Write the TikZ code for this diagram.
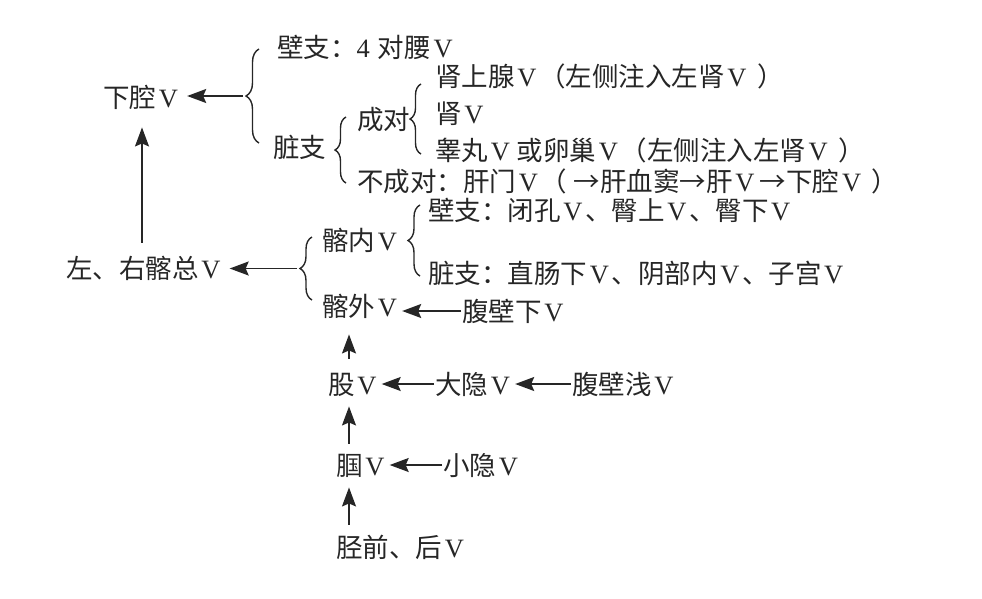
\documentclass[tikz,border=0pt]{standalone}
\usepackage{fontspec}
\setmainfont{Noto Sans CJK SC}
\newfontfamily\serifl{Liberation Serif}
\newcommand\Vv{{\serifl\hspace{0.1em}V\hspace{0.1em}}}
\newcommand\Vsp{\hspace{0.3em}}
\usetikzlibrary{arrows.meta,decorations.pathreplacing,calc}
\begin{document}
\begin{tikzpicture}[x=1pt,y=-1pt,
  lbl/.style={anchor=west, inner sep=0pt, font=\fontsize{26.5}{27}\selectfont,
    text height=23.3pt, text depth=3.2pt, text=black!85},
  arr/.style={draw=black!85, line width=1.6pt, -{Stealth[length=19pt,width=14pt,inset=3pt]}},
  brc/.style={draw=black!85, decorate, decoration={brace, amplitude=#1}, line width=1.4pt},
  brc/.default=12]
\useasboundingbox (0,0) rectangle (982,598);
% top part
\node[lbl] (xq)  at (103,97)  {下腔\Vv};
\node[lbl] (bz1) at (277,47)  {壁支：{\serifl 4}\hspace{0.3em}对腰\Vv};
\node[lbl] (zz1) at (273,147) {脏支};
\node[lbl] (cd)  at (357,119) {成对};
\node[lbl] (ss)  at (435,76)  {肾上腺\Vv（左侧注入左肾\Vv\Vsp）};
\node[lbl] (sv)  at (435,113) {肾\Vv};
\node[lbl] (gw)  at (435,150) {睾丸\Vv\hspace{0.15em}或卵巢\Vv（左侧注入左肾\Vv\Vsp）};
\node[lbl] (bcd) at (357,181) {不成对：肝门\Vv（\hspace{0.25em}→肝血窦→肝\Vv\hspace{0.1em}→下腔\Vv\Vsp）};
% braces top
\draw[brc=13] (259,143) -- (259,49);
\coordinate (b1tip) at (246,96);
\draw[brc=11] (346,183) -- (346,117);
\draw[brc=11] (421,154) -- (421,84);
\draw[arr, shorten <=3pt, shorten >=9pt] (b1tip) -- (b1tip -| xq.east);
% iliac part
\node[lbl] (zqz) at (66,268)  {左、右髂总\Vv};
\node[lbl] (qn)  at (322,240) {髂内\Vv};
\node[lbl] (qw)  at (322,306) {髂外\Vv};
\node[lbl] (bz2) at (428,210) {壁支：闭孔\Vv、臀上\Vv、臀下\Vv};
\node[lbl] (zz2) at (428,273) {脏支：直肠下\Vv、阴部内\Vv、子宫\Vv};
\node[lbl] (fbx) at (462,311) {腹壁下\Vv};
\draw[brc=12] (312,300) -- (312,237);
\coordinate (b4tip) at (300,268.5);
\draw[brc=12] (420,276) -- (420,205);
\draw[arr, shorten <=3pt, shorten >=9pt] (b4tip) -- (b4tip -| zqz.east);
\draw[arr, shorten <=1pt, shorten >=5pt] (fbx.west) -- (fbx.west -| qw.east);
% vertical to xia qiang
\coordinate (vx1) at (142,0);
\draw[arr, shorten <=12pt, shorten >=17pt] (zqz.north -| vx1) -- (xq.south -| vx1);
% leg part
\node[lbl] (gu)  at (328,384) {股\Vv};
\node[lbl] (dy)  at (435,384) {大隐\Vv};
\node[lbl] (fbq) at (572,384) {腹壁浅\Vv};
\node[lbl] (po)  at (336,465) {腘\Vv};
\node[lbl] (xy)  at (443,465) {小隐\Vv};
\node[lbl] (jq)  at (336,547) {胫前、后\Vv};
\draw[arr, shorten <=1pt, shorten >=5pt] (dy.west) -- (gu.east);
\draw[arr, shorten <=1pt, shorten >=5pt] (fbq.west) -- (dy.east);
\draw[arr, shorten <=1pt, shorten >=5pt] (xy.west) -- (po.east);
\coordinate (vx2) at (349,0);
\draw[arr, shorten <=12pt, shorten >=15pt] (gu.north -| vx2) -- (qw.south -| vx2);
\draw[arr, shorten <=8pt, shorten >=9pt] (po.north -| vx2) -- (gu.south -| vx2);
\draw[arr, shorten <=9pt, shorten >=9pt] (jq.north -| vx2) -- (po.south -| vx2);
\end{tikzpicture}
\end{document}
